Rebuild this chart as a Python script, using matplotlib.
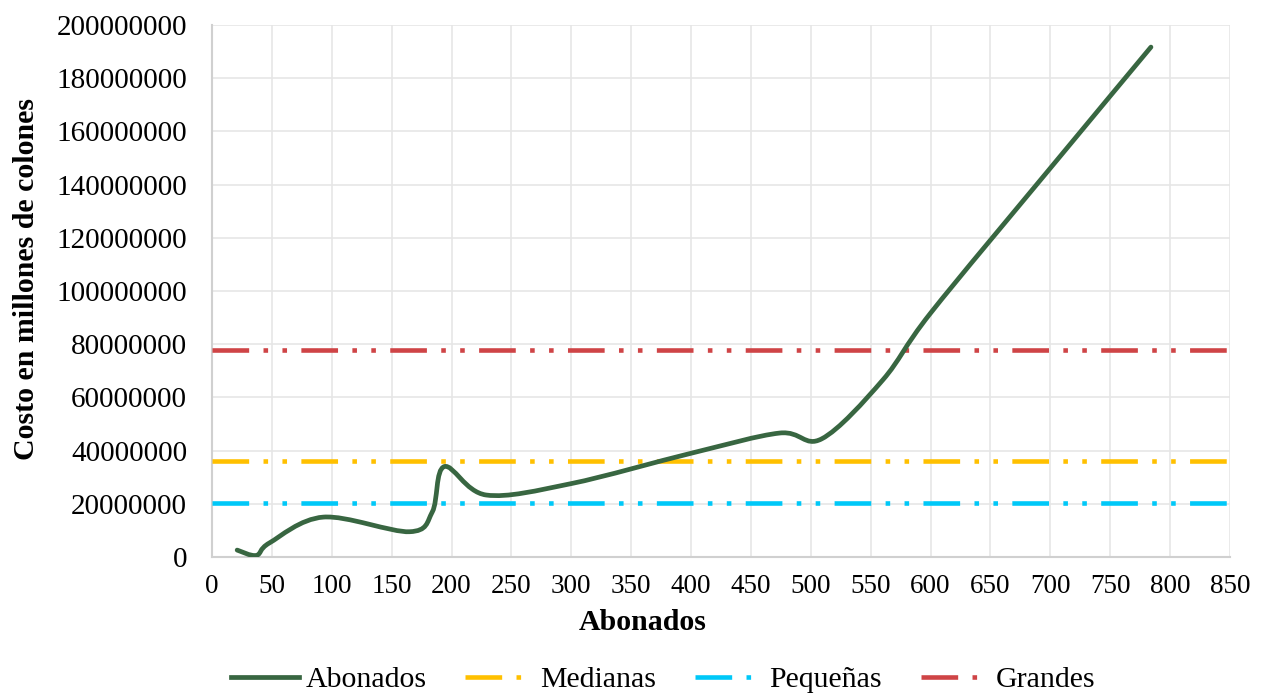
import numpy as np
import matplotlib
matplotlib.use("Agg")
import matplotlib.pyplot as plt
from matplotlib.path import Path
from matplotlib.patches import PathPatch
from matplotlib.lines import Line2D

# puntos (abonados, costo en colones)
abonados_x = [21, 37, 48, 93, 165, 184, 194, 229, 300, 400, 474, 509, 560, 600, 700, 784]
abonados_y = [2.6e6, 0.6e6, 5.3e6, 15.0e6, 9.5e6, 17.0e6, 34.0e6, 23.3e6, 27.6e6,
              39.0e6, 46.6e6, 44.4e6, 66.5e6, 91.7e6, 146.2e6, 191.7e6]

limites_x = [0, 850]
medianas = 36.1e6
pequenas = 20.3e6
grandes = 77.8e6

green = "#386641"
orange = "#FFC000"
cyan = "#00C8F8"
red = "#CF4446"

plt.rcParams["font.family"] = ["Liberation Serif", "DejaVu Serif"]

fig = plt.figure(figsize=(12.69, 6.96), dpi=100)
ax = fig.add_axes([212 / 1269, 1 - 557 / 696, (1230 - 212) / 1269, (557 - 25) / 696])


def smooth_path(xs, ys):
    # curva suavizada tipo Excel: bezier cubica entre los puntos
    pts = np.column_stack([xs, ys]).astype(float)
    n = len(pts)
    verts = [pts[0]]
    codes = [Path.MOVETO]
    for i in range(n - 1):
        p0 = pts[i - 1] if i > 0 else pts[i]
        p1 = pts[i]
        p2 = pts[i + 1]
        p3 = pts[i + 2] if i + 2 < n else pts[i + 1]
        c1 = p1 + (p2 - p0) / 6
        c2 = p2 - (p3 - p1) / 6
        verts += [c1, c2, p2]
        codes += [Path.CURVE4] * 3
    return Path(verts, codes)


ax.add_patch(PathPatch(smooth_path(abonados_x, abonados_y), fill=False,
                       edgecolor=green, lw=3.4, capstyle="round", joinstyle="round", zorder=4))

dashdotdot = (0, (8.0, 3.13, 1.0, 3.13, 1.0, 3.13))
for val, col in [(medianas, orange), (pequenas, cyan), (grandes, red)]:
    ax.plot(limites_x, [val, val], color=col, lw=3.3, linestyle=dashdotdot,
            dash_capstyle="butt", zorder=3)

ax.set_xlim(0, 850)
ax.set_ylim(0, 200e6)
ax.set_xticks(np.arange(0, 851, 50))
ax.set_yticks(np.arange(0, 200e6 + 1, 20e6))
ax.yaxis.set_major_formatter(matplotlib.ticker.FuncFormatter(lambda v, p: f"{int(v)}"))
ax.tick_params(length=0, colors="black")
ax.tick_params(axis="x", labelsize=19.5, pad=12)
ax.tick_params(axis="y", labelsize=21, pad=18)
ax.grid(True, color="#e6e6e6", lw=1.2)
ax.set_axisbelow(True)
for s in ["top", "right"]:
    ax.spines[s].set_visible(False)
for s in ["left", "bottom"]:
    ax.spines[s].set_color("#d0d0d0")
    ax.spines[s].set_linewidth(1.5)

ax.set_ylabel("Costo en millones de colones", fontsize=21.5, fontweight="bold")
ax.yaxis.set_label_coords(-0.169, 0.523)
fig.text(643 / 1269, 1 - 622 / 696, "Abonados", fontsize=21.5, fontweight="bold",
         ha="center", va="center")

handles = [
    Line2D([], [], color=green, lw=3.4),
    Line2D([], [], color=orange, lw=3.3, linestyle=dashdotdot),
    Line2D([], [], color=cyan, lw=3.3, linestyle=dashdotdot),
    Line2D([], [], color=red, lw=3.3, linestyle=dashdotdot),
]
fig.legend(handles, ["Abonados", "Medianas", "Pequeñas", "Grandes"], ncol=4,
           loc="center", bbox_to_anchor=(663 / 1269, 1 - 680 / 696), frameon=False,
           fontsize=21.5, handlelength=2.3, handletextpad=0.2, columnspacing=1.3)

fig.savefig("out.png", dpi=100)
